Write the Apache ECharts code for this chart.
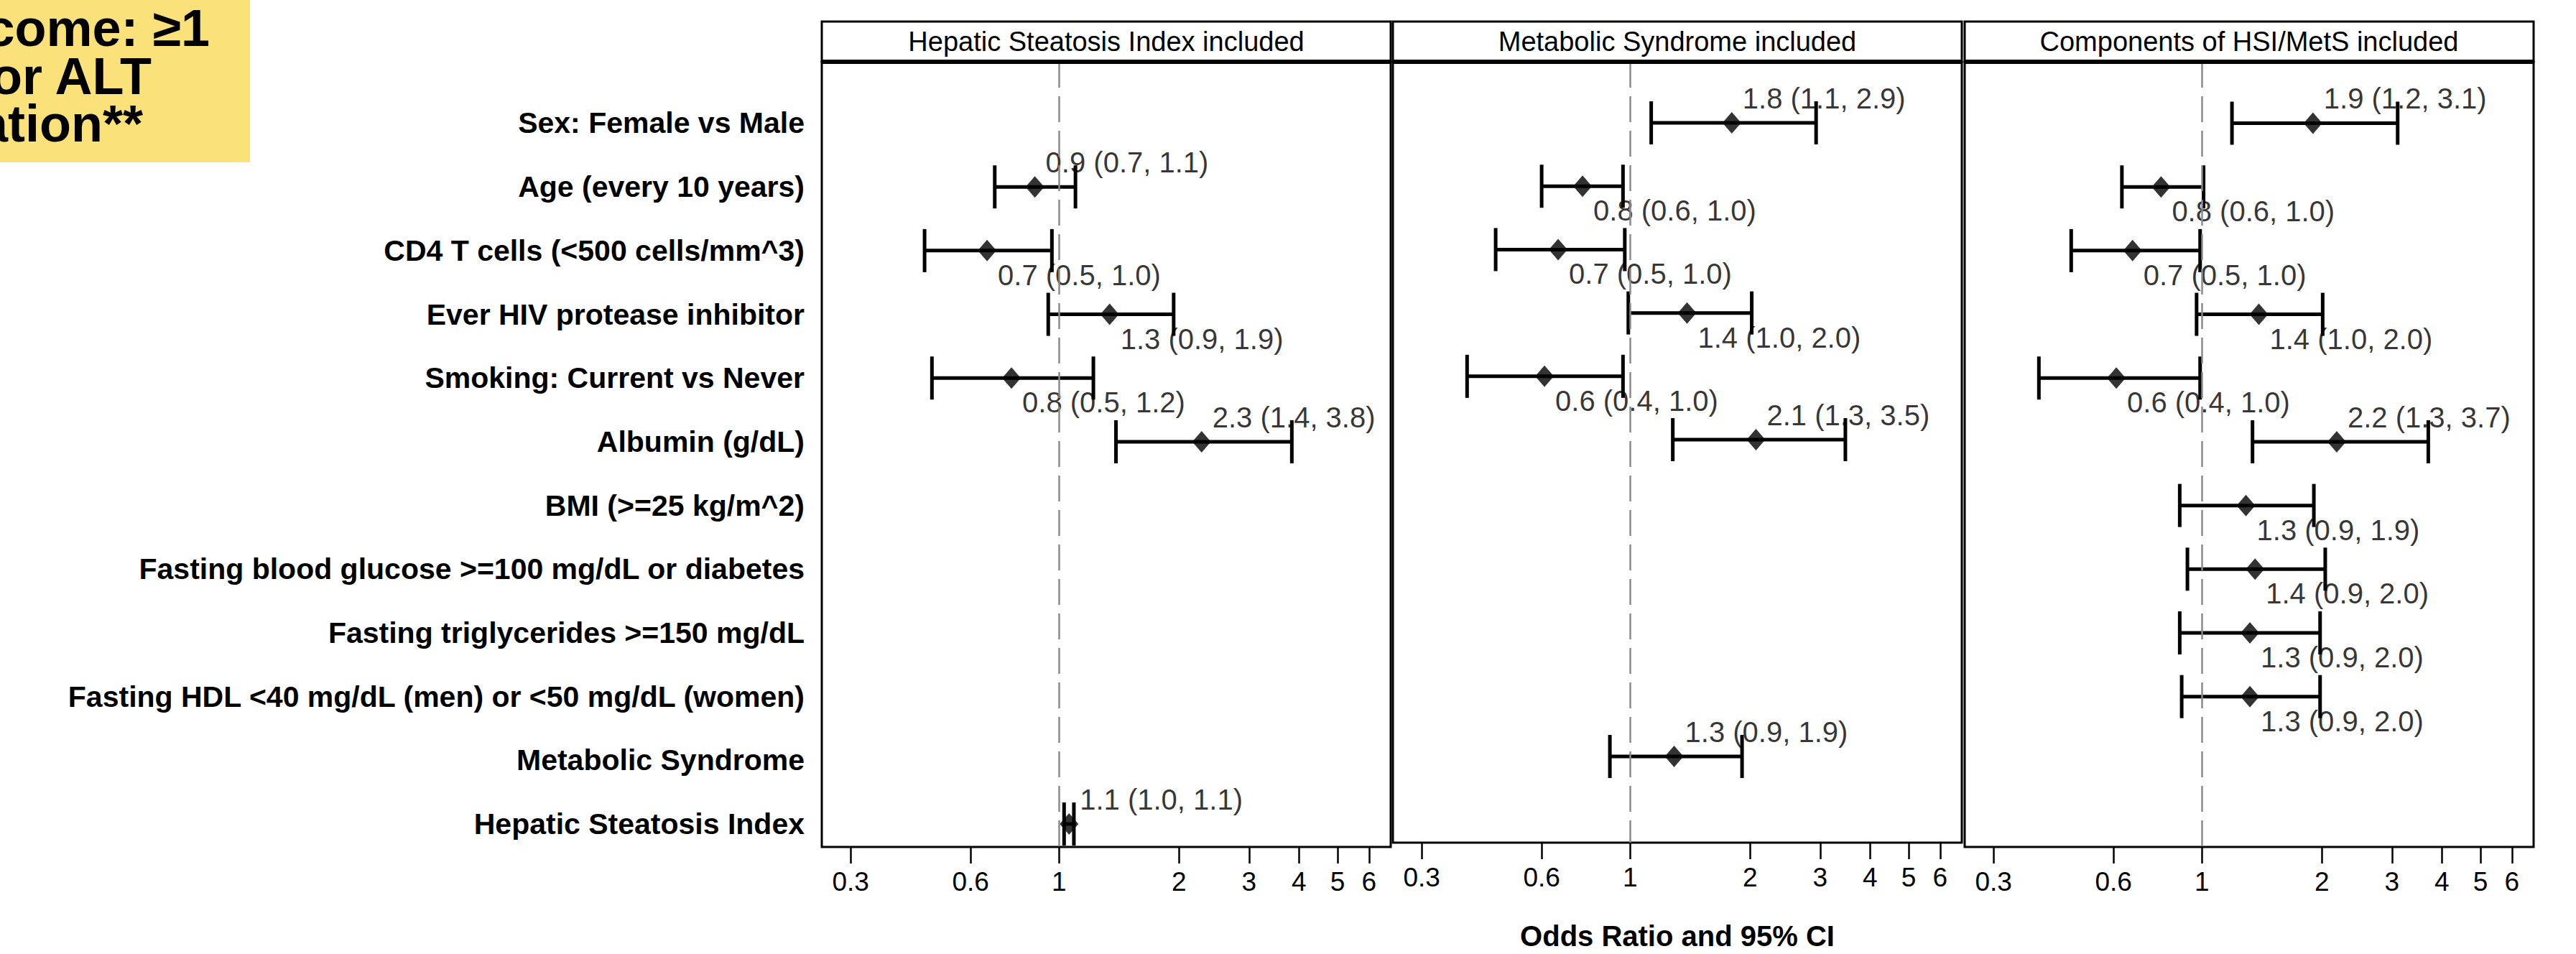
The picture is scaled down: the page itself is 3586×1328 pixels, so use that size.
<!DOCTYPE html>
<html><head><meta charset="utf-8">
<script src="https://cdn.jsdelivr.net/npm/echarts@6/dist/echarts.min.js"></script>
<style>html,body{margin:0;padding:0;background:#fff}#c{width:3586px;height:1328px}</style>
</head><body><div id="c"></div>
<script>
// ---------- data ----------
const categories = [
  'Sex: Female vs Male',
  'Age (every 10 years)',
  'CD4 T cells (<500 cells/mm^3)',
  'Ever HIV protease inhibitor',
  'Smoking: Current vs Never',
  'Albumin (g/dL)',
  'BMI (>=25 kg/m^2)',
  'Fasting blood glucose >=100 mg/dL or diabetes',
  'Fasting triglycerides >=150 mg/dL',
  'Fasting HDL <40 mg/dL (men) or <50 mg/dL (women)',
  'Metabolic Syndrome',
  'Hepatic Steatosis Index'
];
const panelTitles = ['Hepatic Steatosis Index included', 'Metabolic Syndrome included', 'Components of HSI/MetS included'];
const tickValues = [0.3, 0.6, 1, 2, 3, 4, 5, 6];
const xAxisTitle = 'Odds Ratio and 95% CI';
const titleLines = ['come: \u22651', 'or ALT', 'ation**'];

// Panel 1: Hepatic Steatosis Index included
const hsiOR    = [null, 0.87, 0.66, 1.34, 0.76, 2.28, null, null, null, null, null, 1.06];
const hsiLow   = [null, 0.69, 0.46, 0.94, 0.48, 1.39, null, null, null, null, null, 1.03];
const hsiHigh  = [null, 1.10, 0.96, 1.94, 1.22, 3.84, null, null, null, null, null, 1.09];
const hsiLabel = [null, 'above', 'below', 'below', 'below', 'above', null, null, null, null, null, 'above'];

// Panel 2: Metabolic Syndrome included
const metsOR    = [1.80, 0.76, 0.66, 1.39, 0.61, 2.07, null, null, null, null, 1.29, null];
const metsLow   = [1.13, 0.60, 0.46, 0.99, 0.39, 1.28, null, null, null, null, 0.89, null];
const metsHigh  = [2.93, 0.96, 0.97, 2.02, 0.96, 3.47, null, null, null, null, 1.91, null];
const metsLabel = ['above', 'below', 'below', 'below', 'below', 'above', null, null, null, null, 'above', null];

// Panel 3: Components of HSI/MetS included
const compOR    = [1.90, 0.79, 0.67, 1.39, 0.61, 2.18, 1.29, 1.36, 1.32, 1.32, null, null];
const compLow   = [1.19, 0.63, 0.47, 0.97, 0.39, 1.34, 0.88, 0.92, 0.88, 0.89, null, null];
const compHigh  = [3.10, 1.01, 0.99, 2.01, 0.99, 3.70, 1.91, 2.04, 1.98, 1.98, null, null];
const compLabel = ['above', 'below', 'below', 'below', 'below', 'above', 'below', 'below', 'below', 'below', null, null];

// ---------- layout / style ----------
const FONT = "'Liberation Sans', Arial, Helvetica, sans-serif";
const panels = [
  {title: panelTitles[0], or: hsiOR,  lo: hsiLow,  hi: hsiHigh,  pos: hsiLabel},
  {title: panelTitles[1], or: metsOR, lo: metsLow, hi: metsHigh, pos: metsLabel},
  {title: panelTitles[2], or: compOR, lo: compLow, hi: compHigh, pos: compLabel}
];
const gridLeft = [1144, 1939, 2735];
const gridW = 792, gridTop = 86, gridH = 1093, headTop = 30;
const xMin = 0.254, xMax = 6.8;

const fmt = v => v.toFixed(1);

const grids = [], xAxes = [], yAxes = [], series = [], graphics = [];

// yellow title box (text runs off the left edge, as in the original)
graphics.push({type: 'rect', shape: {x: 0, y: 0, width: 348, height: 226}, style: {fill: '#FAE17A'}, z: 1});
const titleRight = [292, 211, 199], titleMid = [39, 106, 172];
titleLines.forEach((t, i) => graphics.push({
  type: 'text', x: titleRight[i], y: titleMid[i], z: 2,
  style: {text: t, fill: '#000', font: 'bold 72px ' + FONT, textAlign: 'right', textVerticalAlign: 'middle'}
}));

panels.forEach((p, gi) => {
  grids.push({left: gridLeft[gi], top: gridTop, width: gridW, height: gridH, show: true,
    borderColor: '#000', borderWidth: 3, backgroundColor: 'transparent', containLabel: false});
  xAxes.push({
    gridIndex: gi, type: 'log', logBase: 10, min: xMin, max: xMax,
    axisLine: {show: false},
    axisTick: {show: true, inside: false, length: 23, customValues: tickValues, lineStyle: {color: '#000', width: 2.5}},
    axisLabel: {show: true, customValues: tickValues, margin: 30, fontSize: 37, fontFamily: FONT, color: '#000',
      formatter: v => String(+(+v).toPrecision(3))},
    splitLine: {show: false},
    name: gi === 1 ? xAxisTitle : '', nameLocation: 'middle', nameGap: 110,
    nameTextStyle: {fontSize: 40, fontWeight: 'bold', fontFamily: FONT, color: '#000'}
  });
  yAxes.push({
    gridIndex: gi, type: 'value', inverse: true, min: 0.036, max: 12.36,
    axisLine: {show: false}, axisTick: {show: false}, splitLine: {show: false},
    axisLabel: gi === 0 ? {show: true, customValues: categories.map((c, i) => i + 1), margin: 24,
      fontSize: 41, fontWeight: 'bold', fontFamily: FONT, color: '#000',
      formatter: v => categories[Math.round(v) - 1] || ''} : {show: false}
  });

  const bars = [], pts = [];
  p.or.forEach((v, i) => {
    if (v == null) return;
    bars.push([p.lo[i], p.hi[i], i + 1]);
    pts.push({
      value: [v, i + 1],
      labelText: fmt(v) + ' (' + fmt(p.lo[i]) + ', ' + fmt(p.hi[i]) + ')',
      label: {offset: [0, p.pos[i] === 'above' ? -34 : 34]}
    });
  });

  // reference dashed line at OR = 1
  series.push({
    type: 'line', xAxisIndex: gi, yAxisIndex: gi, data: [], z: 1, silent: true,
    markLine: {silent: true, symbol: 'none', label: {show: false}, animation: false,
      lineStyle: {type: [36, 12], color: '#8a8a8a', width: 2.5}, data: [{xAxis: 1}]}
  });
  // confidence intervals
  series.push({
    type: 'custom', xAxisIndex: gi, yAxisIndex: gi, z: 3, silent: true, animation: false,
    encode: {x: [0, 1], y: 2}, data: bars,
    renderItem: (params, api) => {
      const y = api.value(2);
      const a = api.coord([api.value(0), y]);
      const b = api.coord([api.value(1), y]);
      const h = 30;
      const st = {stroke: '#000', lineWidth: 5, fill: null};
      return {type: 'group', children: [
        {type: 'line', shape: {x1: a[0], y1: a[1], x2: b[0], y2: b[1]}, style: st},
        {type: 'line', shape: {x1: a[0], y1: a[1] - h, x2: a[0], y2: a[1] + h}, style: st},
        {type: 'line', shape: {x1: b[0], y1: b[1] - h, x2: b[0], y2: b[1] + h}, style: st}
      ]};
    }
  });
  // odds ratio diamonds + labels
  series.push({
    type: 'scatter', xAxisIndex: gi, yAxisIndex: gi, z: 4, animation: false,
    symbol: 'diamond', symbolSize: [26, 30], itemStyle: {color: '#000'},
    data: pts,
    label: {show: true, position: 'right', distance: 2, fontSize: 40, fontFamily: FONT, color: '#000',
      formatter: prm => prm.data.labelText}
  });

  // header box
  const L = gridLeft[gi];
  graphics.push({type: 'rect', shape: {x: L, y: headTop, width: gridW, height: gridTop - headTop},
    style: {fill: '#fff', stroke: '#000', lineWidth: 3}, z: 5});
  graphics.push({type: 'line', shape: {x1: L, y1: gridTop, x2: L + gridW, y2: gridTop},
    style: {stroke: '#000', lineWidth: 6}, z: 6});
  graphics.push({type: 'text', x: L + gridW / 2, y: (headTop + gridTop) / 2, z: 7,
    style: {text: p.title, fill: '#000', font: '38px ' + FONT, textAlign: 'center', textVerticalAlign: 'middle'}});
});

const chart = echarts.init(document.getElementById('c'), null, {renderer: 'svg', width: 3586, height: 1328});
chart.setOption({
  backgroundColor: '#fff',
  animation: false,
  grid: grids, xAxis: xAxes, yAxis: yAxes, series: series,
  graphic: graphics
});
</script>
</body></html>
